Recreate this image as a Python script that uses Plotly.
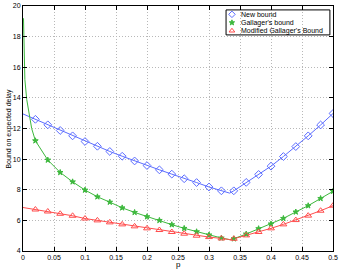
import plotly.graph_objects as go

# marker positions
p_marks = [0.02, 0.04, 0.06, 0.08, 0.10, 0.12, 0.14, 0.16, 0.18, 0.20, 0.22, 0.24,
           0.26, 0.28, 0.30, 0.32, 0.34, 0.36, 0.38, 0.40, 0.42, 0.44, 0.46, 0.48, 0.50]
new_marks = [12.6, 12.24, 11.87, 11.52, 11.15, 10.84, 10.5, 10.19, 9.88, 9.58, 9.3, 9.02,
             8.72, 8.47, 8.18, 7.93, 7.93, 8.48, 9.0, 9.54, 10.17, 10.82, 11.52, 12.23, 12.98]
gal_marks = [11.2, 9.94, 9.13, 8.52, 7.98, 7.54, 7.19, 6.82, 6.52, 6.24, 6.0, 5.72,
             5.48, 5.26, 5.05, 4.85, 4.8, 5.11, 5.46, 5.77, 6.13, 6.55, 6.96, 7.43, 7.9]
mod_marks = [6.71, 6.58, 6.43, 6.3, 6.12, 6.0, 5.87, 5.74, 5.61, 5.48, 5.37, 5.24,
             5.13, 5.0, 4.91, 4.82, 4.8, 5.02, 5.24, 5.48, 5.74, 6.02, 6.31, 6.63, 6.96]

# extra line points (p=0 start, sharp minimum at 1/3, steep start of Gallager's bound)
p_start = [0.0]
new_start = [12.95]
mod_start = [6.84]
p_gal_start = [0.0008, 0.002, 0.003, 0.006, 0.01, 0.014]
gal_start = [19.2, 16.5, 15.2, 13.9, 12.8, 12.0]
p_min = 1 / 3
new_min, gal_min, mod_min = 7.78, 4.74, 4.75

names = ["New bound", "Gallager's bound", "Modified Gallager's Bound"]
x_ticks = [0, 0.05, 0.1, 0.15, 0.2, 0.25, 0.3, 0.35, 0.4, 0.45, 0.5]
x_tick_text = ["0", "0.05", "0.1", "0.15", "0.2", "0.25", "0.3", "0.35", "0.4", "0.45", "0.5"]
y_ticks = [4, 6, 8, 10, 12, 14, 16, 18, 20]


def with_min(ps, vs, vmin):
    xs, ys = [], []
    for x, y in zip(ps, vs):
        if x > p_min and (not xs or xs[-1] < p_min):
            xs.append(p_min)
            ys.append(vmin)
        xs.append(x)
        ys.append(y)
    return xs, ys


blue = "#5b6cff"
green = "#3cb83c"
red = "#ff4d4d"

fig = go.Figure()
series = [
    (p_start + p_marks, new_start + new_marks, new_min, new_marks, blue, "diamond-open", 6, 5),
    (p_gal_start + p_marks, gal_start + gal_marks, gal_min, gal_marks, green, "star", 4.2, 4),
    (p_start + p_marks, mod_start + mod_marks, mod_min, mod_marks, red, "triangle-up-open", 6, 5),
]
for lx, ly, vmin, my, col, sym, sz, lsz in series:
    xs, ys = with_min(lx, ly, vmin)
    fig.add_trace(go.Scatter(x=xs, y=ys, mode="lines", line=dict(color=col, width=1),
                             showlegend=False, hoverinfo="skip"))
for name, (lx, ly, vmin, my, col, sym, sz, lsz) in zip(names, series):
    fig.add_trace(go.Scatter(x=p_marks, y=my, mode="markers", name=name, showlegend=False,
                             marker=dict(symbol=sym, size=sz, color=col,
                                         line=dict(color=col, width=1))))

# hand-built compact legend (overlay axes in [0,1] units)
leg_x0, leg_x1, leg_y0, leg_y1 = 0.655, 0.99, 0.882, 0.984
leg_rows = [0.966, 0.932, 0.899]
fig.add_shape(type="rect", xref="paper", yref="paper", x0=leg_x0, x1=leg_x1, y0=leg_y0, y1=leg_y1,
              line=dict(color="black", width=1), fillcolor="white", layer="between")
for name, row, (lx, ly, vmin, my, col, sym, sz, lsz) in zip(names, leg_rows, series):
    fig.add_trace(go.Scatter(x=[0.674], y=[row], xaxis="x2", yaxis="y2", mode="markers",
                             showlegend=False, hoverinfo="skip",
                             marker=dict(symbol=sym, size=lsz, color=col, line=dict(color=col, width=1))))
    fig.add_annotation(x=0.697, y=row, xref="paper", yref="paper", text=name, showarrow=False,
                       xanchor="left", yanchor="middle", font=dict(size=7, color="black"))

axis_common = dict(
    showline=True, linecolor="black", linewidth=1, mirror="ticks",
    ticks="inside", ticklen=4, tickcolor="black",
    showgrid=True, gridcolor="#b8b8b8", griddash="1px,2px", gridwidth=1,
    zeroline=False, tickfont=dict(size=7, color="black"), automargin=False,
)
fig.update_xaxes(range=[0, 0.5], tickvals=x_ticks, ticktext=x_tick_text, **axis_common)
fig.update_yaxes(range=[4, 20], tickvals=y_ticks, **axis_common)

fig.add_annotation(x=0.5, y=-0.057, xref="paper", yref="paper", text="p", showarrow=False,
                   xanchor="center", yanchor="middle", font=dict(size=8, color="black"))
fig.add_annotation(x=-0.048, y=0.5, xref="paper", yref="paper", text="Bound on expected delay",
                   showarrow=False, textangle=-90, xanchor="center", yanchor="middle",
                   font=dict(size=7, color="black"))

fig.update_layout(
    width=341, height=271,
    margin=dict(l=23, r=8, t=6, b=20),
    paper_bgcolor="white", plot_bgcolor="white",
    font=dict(family="Liberation Sans, Arial, sans-serif", color="black"),
    showlegend=False,
    xaxis2=dict(overlaying="x", range=[0, 1], visible=False, fixedrange=True),
    yaxis2=dict(overlaying="y", range=[0, 1], visible=False, fixedrange=True),
)
fig.write_html("out.html", config={"displayModeBar": False},
               post_script="document.body.style.margin='0';")
